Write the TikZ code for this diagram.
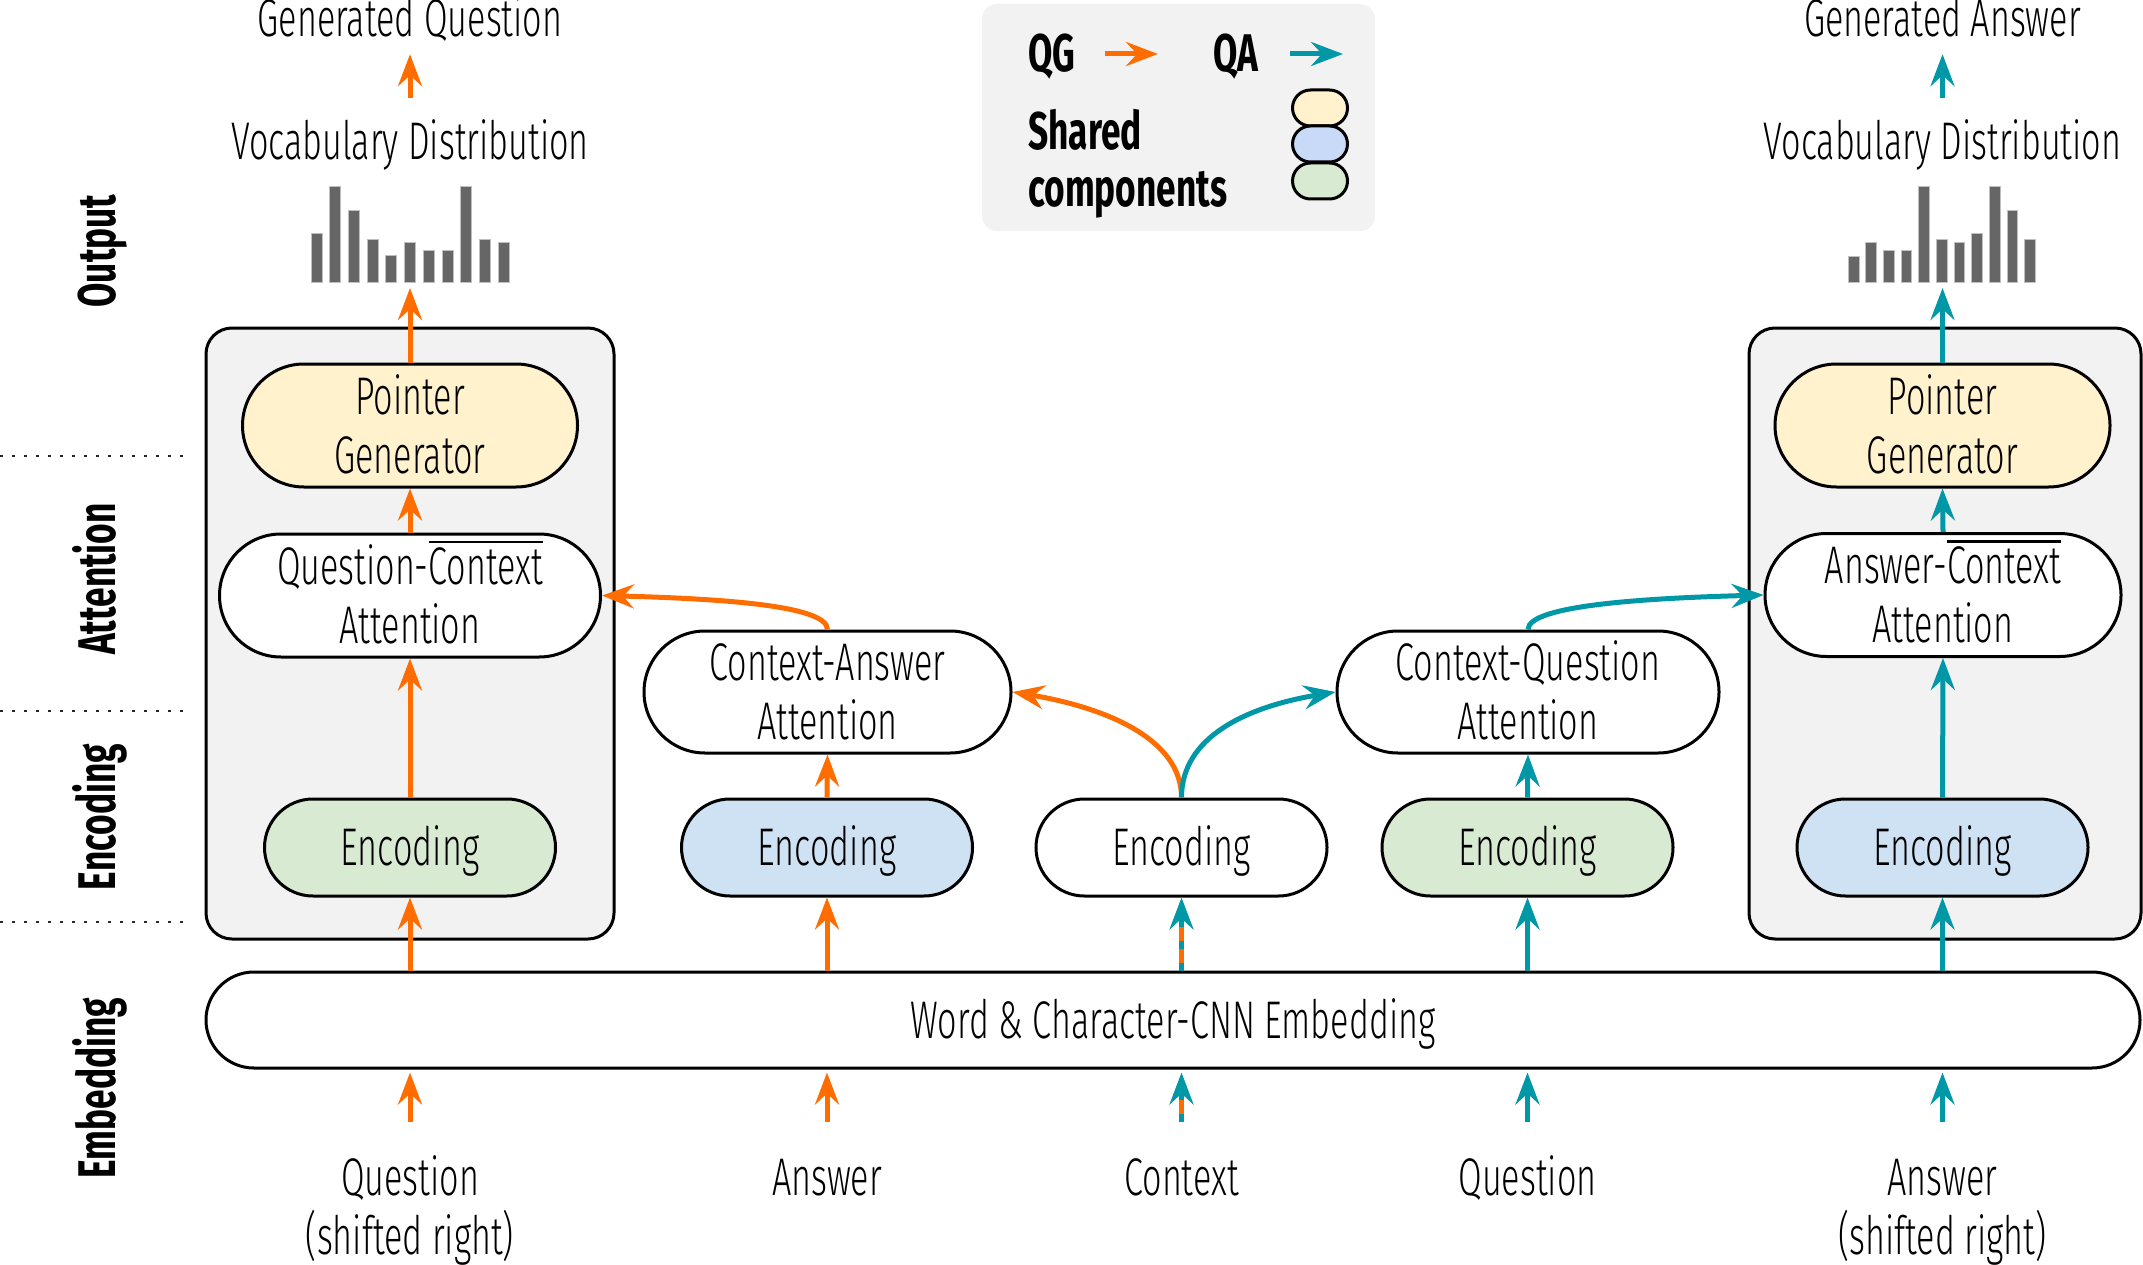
\documentclass[tikz,border=0pt]{standalone}
\usepackage{fontspec}
\setmainfont{Fira Sans}
\newfontfamily\lightf[FakeStretch=0.645]{Fira Sans Light}
\newfontfamily\boldf[FakeStretch=0.665]{Fira Sans Bold}
\usetikzlibrary{arrows.meta,shapes.misc}
\definecolor{qgc}{HTML}{FF6D00}
\definecolor{qac}{HTML}{0097A7}
\definecolor{panel}{HTML}{F2F2F2}
\definecolor{ylw}{HTML}{FFF2CC}
\definecolor{blu}{HTML}{CFE2F3}
\definecolor{lblu}{HTML}{C9DAF8}
\definecolor{grn}{HTML}{D9EAD3}
\definecolor{barc}{HTML}{666666}
\newcommand\twol[2]{\vtop{\halign{\hfil##\hfil\cr#1\cr#2\cr}}}
\newcommand\ovl[1]{\vbox{\hrule height 2.5pt\kern 4pt\hbox{#1}}}
\tikzset{
 txtbase/.style={font=\lightf\fontsize{53pt}{59pt}\selectfont, inner sep=0pt, text height=36pt, text depth=0pt},
 pill/.style={txtbase, rounded rectangle, draw=black, line width=3pt, fill=white},
 twoline/.style={text depth=59pt},
 lab/.style={font=\boldf\fontsize{53pt}{59pt}\selectfont, inner sep=0pt, rotate=90, anchor=base},
 leg/.style={font=\boldf\fontsize{53pt}{58pt}\selectfont, inner sep=0pt, anchor=base west},
 txt/.style={txtbase, anchor=base},
 arrowtip/.style={-{Stealth[length=32pt,width=24pt,inset=11pt]}},
 oarr/.style={draw=qgc, line width=5pt, arrowtip},
 tarr/.style={draw=qac, line width=5pt, arrowtip},
 panelbox/.style={draw=black, line width=3pt, fill=panel, rounded corners=26pt, inner sep=0pt},
 sepline/.style={line width=2.5pt, dash pattern=on 2.5pt off 9.5pt, black!85},
 vbar/.style={fill=barc, draw=black!25, line width=1pt},
 bigpill/.style={minimum height=123pt},
 encpill/.style={minimum width=291pt, minimum height=97pt},
}
\begin{document}
\begin{tikzpicture}[x=1pt,y=-1pt]
\useasboundingbox (0,0) rectangle (2143,1265);
% legend
\node[fill=panel, rounded corners=15pt, minimum width=393pt, minimum height=227pt, inner sep=0pt] (legend) at (1178.5,117.5) {};
\node[leg] (lqg) at (1028,72) {QG};
\node[leg] (lqa) at (1213,72) {QA};
\node[leg] (lsh) at (1028,150) {Shared};
\node[leg] (lco) at (1028,207) {components};
\coordinate (lo1) at (1105,54); \coordinate (lo2) at (1158,54);
\coordinate (lt1) at (1290,54); \coordinate (lt2) at (1343,54);
\draw[oarr] (lo1) -- (lo2);
\draw[tarr] (lt1) -- (lt2);
\node[pill, fill=ylw, minimum width=55pt, minimum height=27pt] (lp1) at (1320,108) {};
\node[pill, fill=lblu, minimum width=55pt, minimum height=27pt] (lp2) at (1320,144) {};
\node[pill, fill=grn, minimum width=55pt, minimum height=27pt] (lp3) at (1320,181) {};
% side labels
\node[lab] (sOut) at (115,251) {Output};
\node[lab] (sAtt) at (115,579) {Attention};
\node[lab] (sEnc) at (115,817) {Encoding};
\node[lab] (sEmb) at (115,1088) {Embedding};
\draw[sepline] (0,456) -- (183,456);
\draw[sepline] (0,711) -- (183,711);
\draw[sepline] (0,922) -- (183,922);
% panels
\node[panelbox, minimum width=408pt, minimum height=611pt] (gbL) at (410,633.5) {};
\node[panelbox, minimum width=392pt, minimum height=611pt] (gbR) at (1945,633.5) {};
% bars
\foreach \h [count=\i from 0] in {48,95,71,42,26,39,31,31,95,42,39}
  \draw[vbar] ({311+\i*18.73},282) rectangle ++(11,-\h);
\foreach \h [count=\i from 0] in {25,39,31,31,95,42,39,48,95,71,42}
  \draw[vbar] ({1848.3+\i*17.64},282) rectangle ++(10.7,-\h);
\coordinate (barsL) at (410,282);
\coordinate (barsR) at (1942.5,282);
% top texts
\node[txt] (genQ) at (410,37) {Generated Question};
\node[txt] (vocL) at (410,160) {Vocabulary Distribution};
\node[txt] (genA) at (1942.5,37) {Generated Answer};
\node[txt] (vocR) at (1942.5,160) {Vocabulary Distribution};
% pills
\node[pill, bigpill, twoline, fill=ylw, minimum width=335pt] (pgL) at (410,425.5) {\twol{Pointer}{Generator}};
\node[pill, bigpill, twoline, minimum width=381pt] (qca) at (410,595.5) {\twol{Question-\ovl{Context}}{Attention}};
\node[pill, encpill, fill=grn] (encQ) at (410,847.5) {Encoding};
\node[pill, bigpill, twoline, minimum width=367pt, minimum height=122pt] (caa) at (827.5,692) {\twol{Context-Answer}{Attention}};
\node[pill, encpill, fill=blu] (encA) at (827,847.5) {Encoding};
\node[pill, encpill] (encC) at (1181.5,847.5) {Encoding};
\node[pill, bigpill, twoline, minimum width=382pt, minimum height=122pt] (cqa) at (1528,692) {\twol{Context-Question}{Attention}};
\node[pill, encpill, fill=grn] (encQ2) at (1527.5,847.5) {Encoding};
\node[pill, bigpill, twoline, fill=ylw, minimum width=335pt] (pgR) at (1942.5,425.5) {\twol{Pointer}{Generator}};
\node[pill, bigpill, twoline, minimum width=356pt] (aca) at (1943,595) {\twol{Answer-\ovl{Context}}{Attention}};
\node[pill, encpill, fill=blu] (encA2) at (1942.5,847.5) {Encoding};
\node[pill, minimum width=1934pt, minimum height=96pt] (emb) at (1173,1020) {Word \& Character-CNN Embedding};
% inputs
\node[txt, twoline] (inQ1) at (410,1195) {\twol{Question}{(shifted right)}};
\node[txt] (inA1) at (827,1195) {Answer};
\node[txt] (inC) at (1181.5,1195) {Context};
\node[txt] (inQ2) at (1527.5,1195) {Question};
\node[txt, twoline] (inA2) at (1942.5,1195) {\twol{Answer}{(shifted right)}};
% input arrows
\draw[oarr, shorten >=3pt] ([yshift=37pt]inQ1.north) -- (inQ1.north |- emb.south);
\draw[oarr, shorten >=3pt] ([yshift=37pt]inA1.north) -- (inA1.north |- emb.south);
\draw[tarr, shorten >=3pt] ([yshift=37pt]inQ2.north) -- (inQ2.north |- emb.south);
\draw[tarr, shorten >=3pt] ([yshift=37pt]inA2.north) -- (inA2.north |- emb.south);
\draw[qgc, line width=5pt, shorten >=26pt] ([yshift=37pt]inC.north) -- (inC.north |- emb.south);
\draw[tarr, dash pattern=on 8pt off 14pt, shorten >=3pt] ([yshift=37pt]inC.north) -- (inC.north |- emb.south);
% embedding -> encoding
\draw[oarr] (encQ.south |- emb.north) -- (encQ.south);
\draw[oarr] (encA.south |- emb.north) -- (encA.south);
\draw[tarr] (encQ2.south |- emb.north) -- (encQ2.south);
\draw[tarr] (encA2.south |- emb.north) -- (encA2.south);
\draw[qgc, line width=5pt, shorten >=24pt] (encC.south |- emb.north) -- (encC.south);
\draw[tarr, dash pattern=on 8pt off 14pt] (encC.south |- emb.north) -- (encC.south);
% encoding -> attention
\draw[oarr] (encQ.north) -- (qca.south);
\draw[oarr] (encA.north) -- (caa.south);
\draw[tarr] (encQ2.north) -- (cqa.south);
\draw[tarr] (encA2.north) -- (aca.south);
% attention -> pointer generator
\draw[oarr] (qca.north) -- (pgL.south);
\draw[tarr] (aca.north) -- (pgR.south);
% curves
\draw[oarr] (encC.north) .. controls +(0,-60) and +(90,15) .. (caa.east);
\draw[tarr] (encC.north) .. controls +(0,-60) and +(-90,15) .. (cqa.west);
\draw[oarr] (caa.north) .. controls +(0,-25) and +(110,3) .. (qca.east);
\draw[tarr] (cqa.north) .. controls +(0,-25) and +(-110,3) .. (aca.west);
% outputs
\draw[oarr, shorten >=6pt] (pgL.north) -- (barsL);
\draw[tarr, shorten >=6pt] (pgR.north) -- (barsR);
\draw[oarr] ([yshift=26pt]vocL.north) -- ([yshift=-17pt]genQ.south);
\draw[tarr] ([yshift=26pt]vocR.north) -- ([yshift=-17pt]genA.south);
\end{tikzpicture}
\end{document}
